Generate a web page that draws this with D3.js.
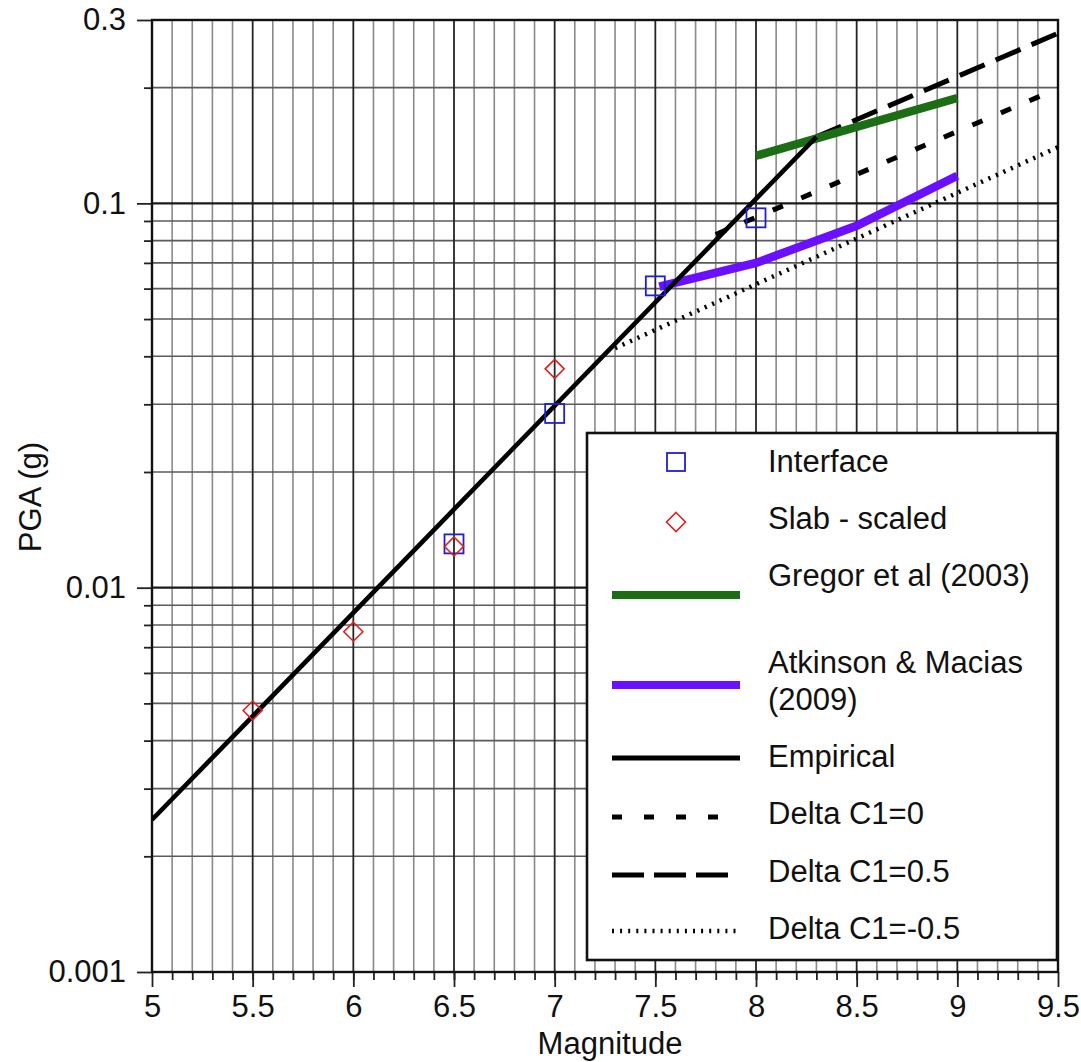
<!DOCTYPE html>
<html>
<head>
<meta charset="utf-8">
<script src="https://cdn.jsdelivr.net/npm/d3@7"></script>
<style>
  html, body { margin: 0; padding: 0; background: #fff; }
  svg { display: block; font-family: "Liberation Sans", Arial, Helvetica, sans-serif; }
</style>
</head>
<body>
<svg id="chart" width="1081" height="1062"></svg>
<script>
// ---- Data ----
const interfaceM   = [6.5, 7.0, 7.5, 8.0];
const interfacePGA = [0.0130, 0.0284, 0.061, 0.0917];

const slabM   = [5.5, 6.0, 6.5, 7.0];
const slabPGA = [0.00479, 0.00768, 0.0128, 0.0371];

const empiricalM   = [5.0, 8.3];
const empiricalPGA = [0.00249, 0.149];

const gregorM   = [8.0, 9.0];
const gregorPGA = [0.133, 0.188];

const atkinsonM   = [7.52, 8.0, 8.5, 9.0];
const atkinsonPGA = [0.0607, 0.070, 0.0874, 0.118];

const dc0M   = [7.8, 9.5];
const dc0PGA = [0.083, 0.199];

const dcPlusM   = [8.3, 9.5];
const dcPlusPGA = [0.149, 0.277];

const dcMinusM   = [7.3, 9.5];
const dcMinusPGA = [0.042, 0.140];

const xTickLabels = [5, 5.5, 6, 6.5, 7, 7.5, 8, 8.5, 9, 9.5];
const yTickLabels = [0.001, 0.01, 0.1, 0.3];

const legendLabels = ["Interface", "Slab - scaled", "Gregor et al (2003)", "Atkinson & Macias", "(2009)",
                      "Empirical", "Delta C1=0", "Delta C1=0.5", "Delta C1=-0.5"];

// ---- Layout ----
const L = 152, R = 1058, T = 20, B = 972;
const svg = d3.select("#chart");
const x = d3.scaleLinear().domain([5, 9.5]).range([L, R]);
const y = d3.scaleLog().domain([0.001, 0.3]).range([B, T]);

const FONT = 31;

// ---- Grid ----
const xMinor = d3.range(51, 95).map(v => v / 10).filter(v => Math.abs(v * 2 - Math.round(v * 2)) > 1e-6);
const xMajor = [5.5, 6, 6.5, 7, 7.5, 8, 8.5, 9];
const yMinor = [];
[0.001, 0.01, 0.1].forEach(d => { for (let k = 2; k <= 9; k++) { const v = d * k; if (v < 0.3 - 1e-9) yMinor.push(v); } });
const yMajor = [0.01, 0.1];

const grid = svg.append("g");
grid.selectAll(".vminor").data(xMinor).join("line")
  .attr("x1", d => x(d)).attr("x2", d => x(d)).attr("y1", T).attr("y2", B)
  .attr("stroke", "#8a8a8a").attr("stroke-width", 1.6);
grid.selectAll(".hminor").data(yMinor).join("line")
  .attr("x1", L).attr("x2", R).attr("y1", d => y(d)).attr("y2", d => y(d))
  .attr("stroke", "#5a5a5a").attr("stroke-width", 1.6);
grid.selectAll(".vmajor").data(xMajor).join("line")
  .attr("x1", d => x(d)).attr("x2", d => x(d)).attr("y1", T).attr("y2", B)
  .attr("stroke", "#252525").attr("stroke-width", 1.8);
grid.selectAll(".hmajor").data(yMajor).join("line")
  .attr("x1", L).attr("x2", R).attr("y1", d => y(d)).attr("y2", d => y(d))
  .attr("stroke", "#1a1a1a").attr("stroke-width", 2.2);

// ---- Axes ----
const axX = svg.append("g").attr("transform", `translate(0,${B})`)
  .call(d3.axisBottom(x).tickValues(xTickLabels).tickSize(15).tickPadding(8).tickFormat(d3.format("")));
const axXm = svg.append("g").attr("transform", `translate(0,${B})`)
  .call(d3.axisBottom(x).tickValues(d3.range(51, 95).map(v => v / 10)).tickSize(8).tickFormat(""));
const axY = svg.append("g").attr("transform", `translate(${L},0)`)
  .call(d3.axisLeft(y).tickValues(yTickLabels).tickSize(15).tickPadding(11).tickFormat(d => String(d)));
const axYm = svg.append("g").attr("transform", `translate(${L},0)`)
  .call(d3.axisLeft(y).tickValues(yMinor).tickSize(8).tickFormat(""));
[axX, axXm, axY, axYm].forEach(a => {
  a.select(".domain").remove();
  a.selectAll("line").attr("stroke", "#222").attr("stroke-width", 1.8);
  a.selectAll("text").attr("font-size", FONT).attr("fill", "#111")
    .attr("font-family", '"Liberation Sans", Arial, sans-serif');
});

// Frame
svg.append("rect").attr("x", L).attr("y", T).attr("width", R - L).attr("height", B - T)
  .attr("fill", "none").attr("stroke", "#111").attr("stroke-width", 2.4);

// Axis titles
svg.append("text").attr("x", (L + R) / 2 + 5).attr("y", 1054).attr("text-anchor", "middle")
  .attr("font-size", FONT).attr("fill", "#111").text("Magnitude");
svg.append("text").attr("transform", `translate(41,497) rotate(-90)`)
  .attr("text-anchor", "middle").attr("font-size", FONT).attr("fill", "#111").text("PGA (g)");

// ---- Series ----
svg.append("clipPath").attr("id", "clip").append("rect")
  .attr("x", L).attr("y", T).attr("width", R - L).attr("height", B - T);
const plot = svg.append("g").attr("clip-path", "url(#clip)");
const line = d3.line().x(d => x(d[0])).y(d => y(d[1]));
const zip = (a, b) => a.map((v, i) => [v, b[i]]);

function drawLine(ms, vs, color, width, dash) {
  plot.append("path").datum(zip(ms, vs)).attr("d", line)
    .attr("fill", "none").attr("stroke", color).attr("stroke-width", width)
    .attr("stroke-dasharray", dash || null).attr("stroke-linecap", "butt");
}
drawLine(dcMinusM, dcMinusPGA, "#000", 4.5, "2.2,6");
drawLine(dc0M, dc0PGA, "#000", 5, "11,20");
drawLine(dcPlusM, dcPlusPGA, "#000", 5, "27,12");
drawLine(gregorM, gregorPGA, "#1b6e14", 8.5);
drawLine(atkinsonM, atkinsonPGA, "#6a10ff", 8.5);
drawLine(empiricalM, empiricalPGA, "#000", 4.6);

const sq = 19;
plot.selectAll(".sq").data(zip(interfaceM, interfacePGA)).join("rect")
  .attr("x", d => x(d[0]) - sq / 2).attr("y", d => y(d[1]) - sq / 2)
  .attr("width", sq).attr("height", sq)
  .attr("fill", "none").attr("stroke", "#2020d0").attr("stroke-width", 1.8);
const dm = 9.5;
plot.selectAll(".dm").data(zip(slabM, slabPGA)).join("path")
  .attr("d", d => { const cx = x(d[0]), cy = y(d[1]);
    return `M${cx},${cy - dm}L${cx + dm},${cy}L${cx},${cy + dm}L${cx - dm},${cy}Z`; })
  .attr("fill", "none").attr("stroke", "#e02020").attr("stroke-width", 1.6);

// ---- Legend ----
const lg = svg.append("g");
lg.append("rect").attr("x", 587).attr("y", 433).attr("width", 470).attr("height", 527)
  .attr("fill", "#fff").attr("stroke", "#111").attr("stroke-width", 2.6);
const tx = 768;
const lx1 = 612, lx2 = 740;
lg.append("rect").attr("x", 676 - 9).attr("y", 462 - 9).attr("width", 18).attr("height", 18)
  .attr("fill", "none").attr("stroke", "#2020d0").attr("stroke-width", 1.8);
lg.append("path").attr("d", `M676,${522 - dm}L${676 + dm},522L676,${522 + dm}L${676 - dm},522Z`)
  .attr("fill", "none").attr("stroke", "#e02020").attr("stroke-width", 1.6);
const legLines = [
  { y: 595, c: "#1b6e14", w: 8, d: null, x2: lx2 },
  { y: 685, c: "#6a10ff", w: 8, d: null, x2: lx2 },
  { y: 758, c: "#000", w: 5, d: null, x2: lx2 },
  { y: 817, c: "#000", w: 5, d: "10,22", x2: 720 },
  { y: 875, c: "#000", w: 5, d: "32,10", x2: 729 },
  { y: 931, c: "#000", w: 4.5, d: "2,6.1", x2: 736 }
];
legLines.forEach(o => lg.append("line").attr("x1", lx1).attr("x2", o.x2).attr("y1", o.y).attr("y2", o.y)
  .attr("stroke", o.c).attr("stroke-width", o.w).attr("stroke-dasharray", o.d));
const legTextY = [472, 529, 586, 673, 710, 767, 824, 882, 939];
legendLabels.forEach((t, i) => lg.append("text").attr("x", tx).attr("y", legTextY[i])
  .attr("font-size", FONT).attr("fill", "#111").text(t));
</script>
</body>
</html>
